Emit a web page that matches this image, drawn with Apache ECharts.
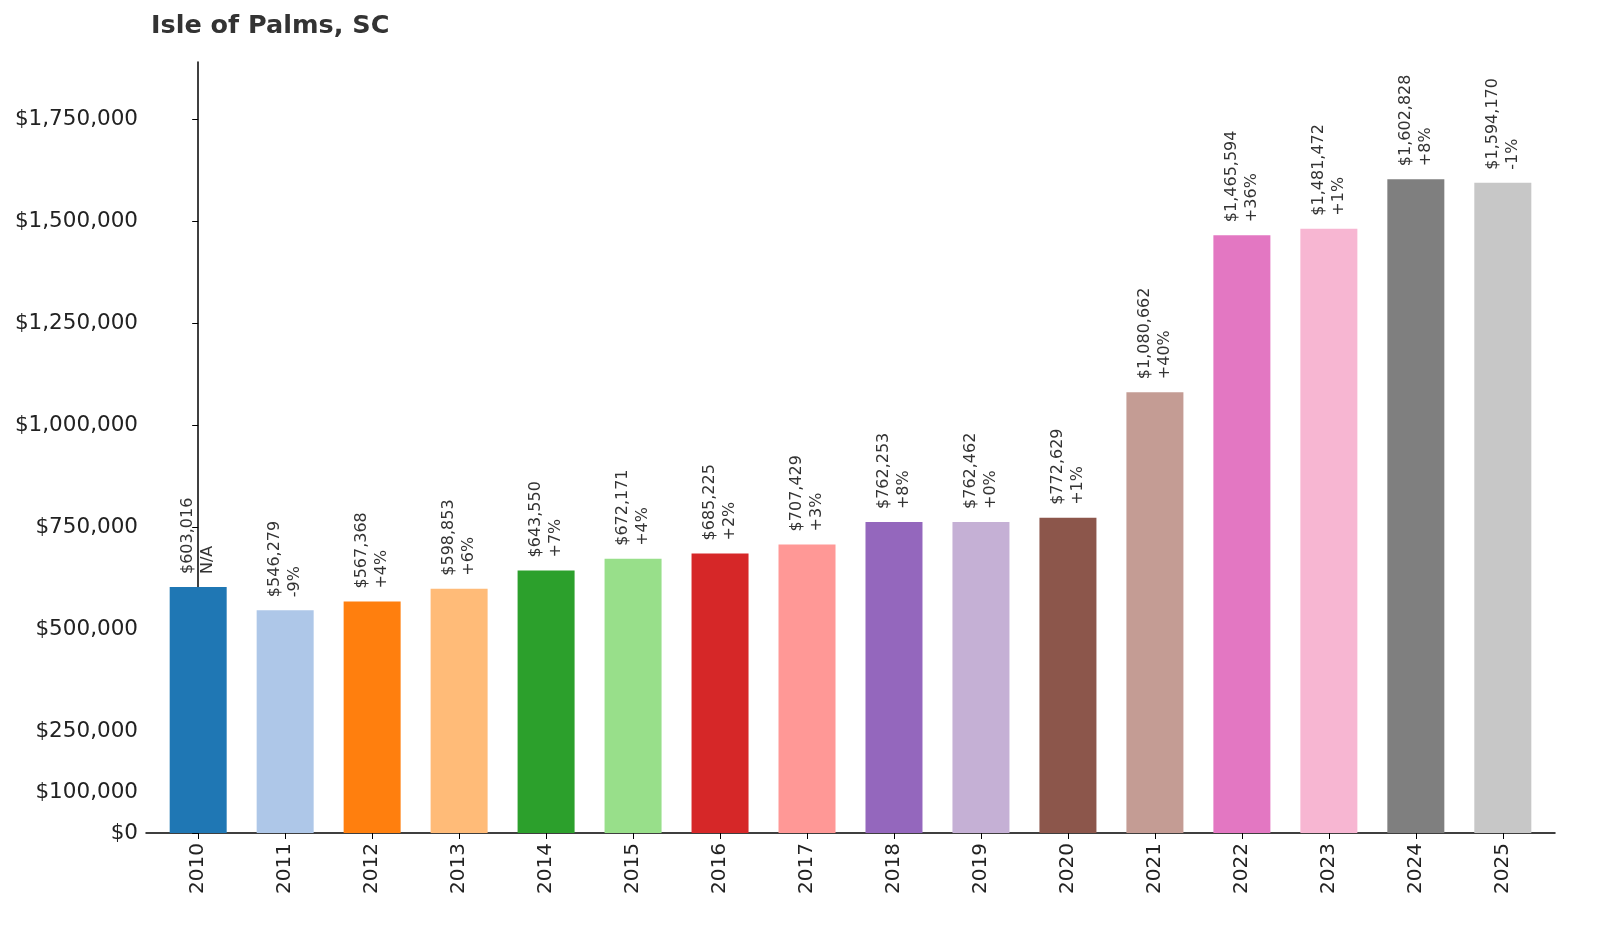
<!DOCTYPE html>
<html><head><meta charset="utf-8">
<script src="https://cdn.jsdelivr.net/npm/echarts@6/dist/echarts.min.js"></script>
<style>html,body{margin:0;padding:0;background:#fff}#c{width:1600px;height:928px}</style>
</head><body><div id="c"></div>
<script>
const years = ['2010','2011','2012','2013','2014','2015','2016','2017','2018','2019','2020','2021','2022','2023','2024','2025'];
const values = [603016,546279,567368,598853,643550,672171,685225,707429,762253,762462,772629,1080662,1465594,1481472,1602828,1594170];
const changes = ['N/A','-9%','+4%','+6%','+7%','+4%','+2%','+3%','+8%','+0%','+1%','+40%','+36%','+1%','+8%','-1%'];
const colors = ['#1f77b4','#aec7e8','#ff7f0e','#ffbb78','#2ca02c','#98df8a','#d62728','#ff9896','#9467bd','#c5b0d5','#8c564b','#c49c94','#e377c2','#f7b6d2','#7f7f7f','#c7c7c7'];
const yTicks = [0,100000,250000,500000,750000,1000000,1250000,1500000,1750000];
const xIdx = years.map((_,i)=>i);
const fmt = v => '$' + v.toLocaleString('en-US');
const ch = echarts.init(document.getElementById('c'));
ch.setOption({
  animation:false,
  textStyle:{fontFamily:'DejaVu Sans'},
  title:{text:'Isle of Palms, SC',left:146,top:8,textStyle:{fontSize:25.5,fontWeight:'bold',color:'#333',fontFamily:'DejaVu Sans'}},
  grid:{left:146,right:45,top:62,bottom:95},
  xAxis:{type:'value',min:-0.6,max:15.6,splitLine:{show:false},
    axisLine:{lineStyle:{color:'#000',width:1.5}},
    axisTick:{length:6,customValues:xIdx,lineStyle:{color:'#000'}},
    axisLabel:{rotate:90,fontSize:20,color:'#222',margin:10,customValues:xIdx,formatter:v=>years[Math.round(v)]}},
  yAxis:{type:'value',min:0,max:1890000,
    splitLine:{show:false},
    axisLine:{show:true,lineStyle:{color:'#000',width:1.5}},
    axisTick:{show:true,length:6,customValues:yTicks,lineStyle:{color:'#000'}},
    axisLabel:{fontSize:21.5,color:'#222',customValues:yTicks,formatter:v=>fmt(v)}},
  series:[{type:'bar',barWidth:57,
    data:values.map((v,i)=>({value:[i,v],itemStyle:{color:colors[i]}})),
    label:{show:true,position:'top',rotate:90,align:'left',verticalAlign:'middle',distance:13,
      fontSize:16,color:'#333',lineHeight:20,
      formatter:p=>fmt(p.value[1])+'\n'+changes[p.dataIndex]}}]
});
</script></body></html>
